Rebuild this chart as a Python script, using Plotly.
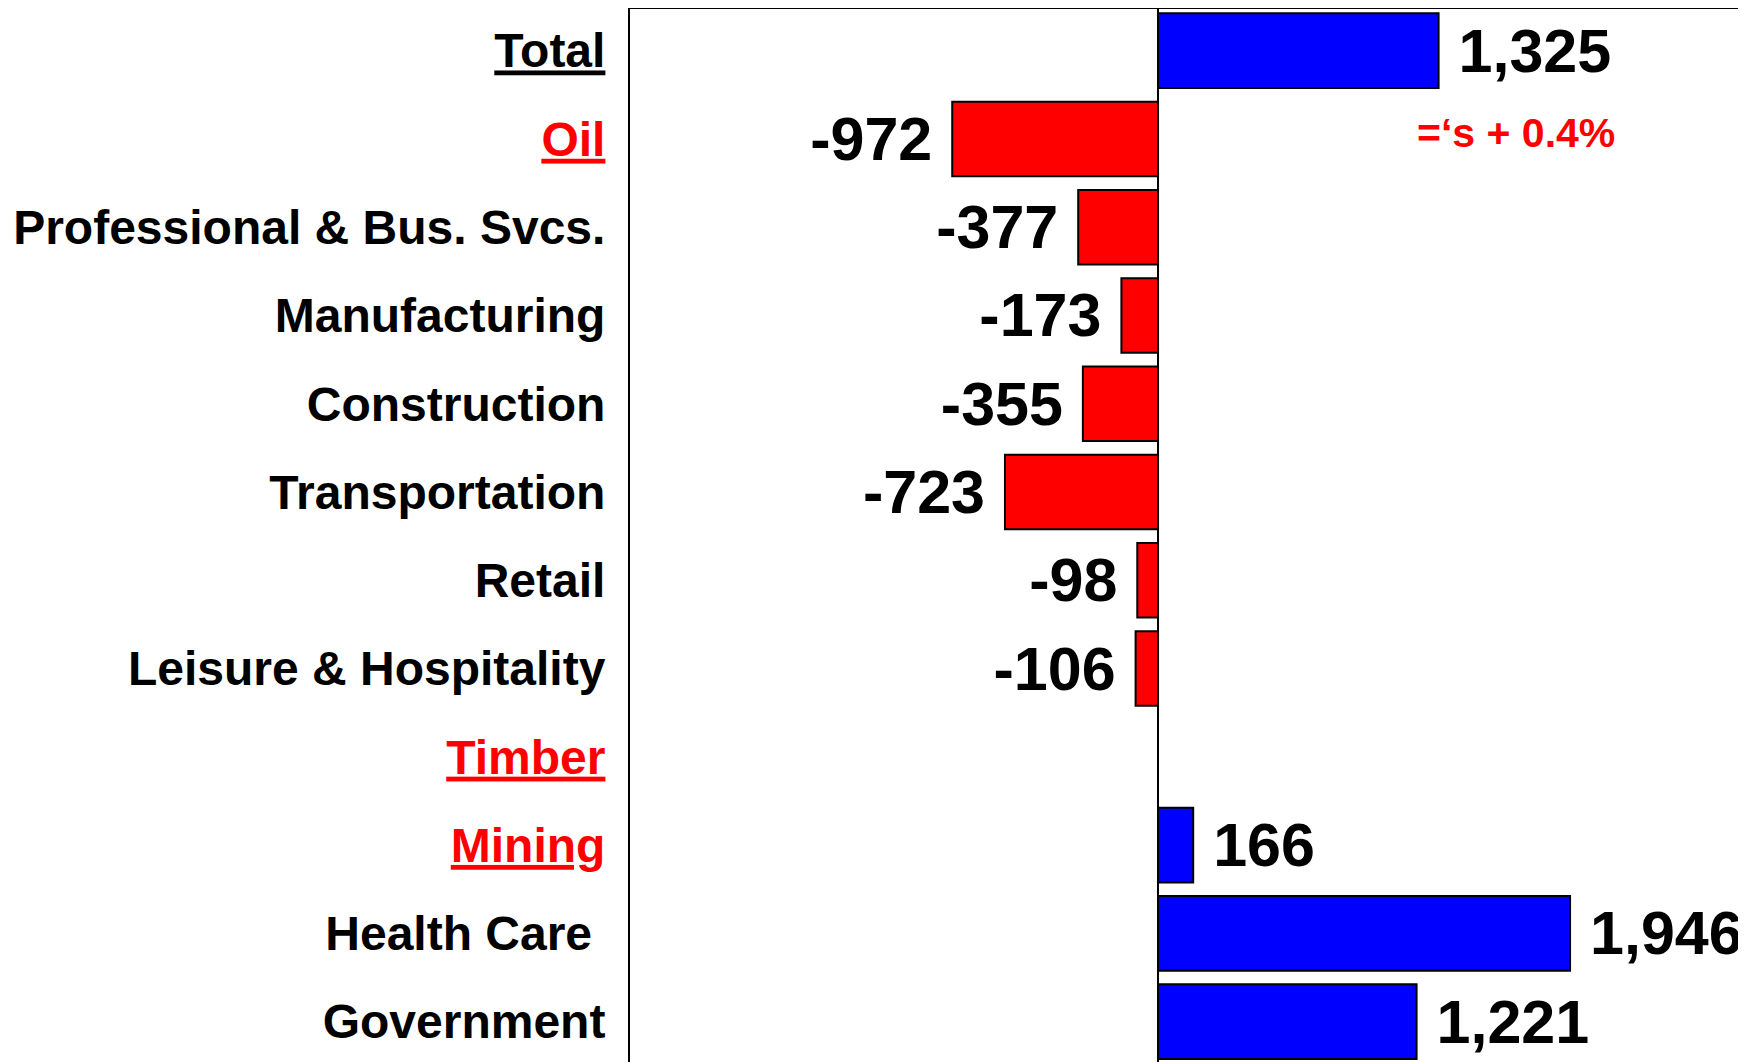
import plotly.graph_objects as go

# employment change by sector (thousands of jobs)
sectors = ["Total", "Oil", "Professional & Bus. Svcs.", "Manufacturing", "Construction",
           "Transportation", "Retail", "Leisure & Hospitality", "Timber", "Mining",
           "Health Care", "Government"]
values = [1325, -972, -377, -173, -355, -723, -98, -106, None, 166, 1946, 1221]
highlight = ["Oil", "Timber", "Mining"]   # red + underlined labels
underlined = ["Total", "Oil", "Timber", "Mining"]
note = "=\u2018s + 0.4%"

def tick_label(name):
    txt = name
    if name == "Health Care":
        txt = name + "\u00a0"
    if name in underlined:
        txt = "<u>" + txt + "</u>"
    if name in highlight:
        txt = "<span style='color:#ff0000'>" + txt + "</span>"
    return txt

def value_label(v):
    if v is None:
        return ""
    s = "{:,}".format(v)
    return " " + s if v > 0 else s + " "

colors = ["#0000ff" if (v or 0) > 0 else "#ff0000" for v in values]

fig = go.Figure()
fig.add_trace(go.Bar(
    x=values, y=sectors, orientation="h",
    marker=dict(color=colors, line=dict(color="black", width=2)),
    text=[value_label(v) for v in values],
    textposition="outside",
    textfont=dict(family="Liberation Sans, Arial", size=61, color="black", weight="bold"),
    constraintext="none",
    cliponaxis=False,
    hoverinfo="skip",
))

fig.add_annotation(x=1690, y=0.93, text="<b>" + note + "</b>", showarrow=False,
                   font=dict(family="Liberation Sans, Arial", size=41, color="#ff0000"),
                   xanchor="center", yanchor="middle")

# page body has an 8px default margin, so the figure is trimmed to fit
fig.update_layout(
    width=1738, height=1054,
    margin=dict(l=622, r=0, t=1, b=0),
    paper_bgcolor="white", plot_bgcolor="white",
    showlegend=False, bargap=0.155,
    font=dict(family="Liberation Sans, Arial", color="black"),
)
fig.update_xaxes(range=[-2494, 2777], side="top", showline=True, linecolor="black", linewidth=2,
                 showticklabels=False, ticks="", showgrid=False,
                 zeroline=True, zerolinecolor="black", zerolinewidth=2)
fig.update_yaxes(range=[11.457, -0.472], showline=True, linecolor="black", linewidth=2,
                 showgrid=False, ticks="outside", ticklen=13, tickcolor="rgba(0,0,0,0)",
                 tickmode="array", tickvals=sectors, ticktext=["<b>" + tick_label(s) + "</b>" for s in sectors],
                 tickfont=dict(family="Liberation Sans, Arial", size=48, color="black"))

fig.write_html("out.html")
